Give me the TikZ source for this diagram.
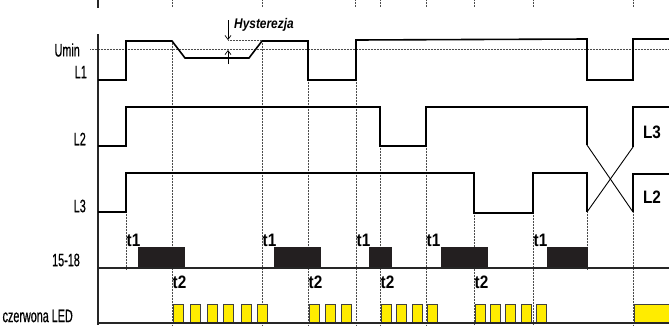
\documentclass[tikz,border=0pt]{standalone}
\usepackage{fontspec}
\setmainfont{Liberation Sans}
\newfontfamily\condfont[FakeStretch=0.6,FakeBold=0.6]{Liberation Sans}
\newfontfamily\tfont[FakeStretch=0.85]{Liberation Sans}
\usepackage{tikz}
\usetikzlibrary{arrows.meta}
\definecolor{ledyellow}{RGB}{255,236,0}
\definecolor{relayblack}{RGB}{35,31,32}
\tikzset{
  lbl/.style={anchor=east, inner sep=0pt, font=\condfont\fontsize{18}{18}\selectfont},
  tlbl/.style={anchor=west, inner sep=0.5pt, font=\tfont\bfseries\fontsize{18}{18}\selectfont},
  wave/.style={line width=1.6pt, line join=miter},
  guide/.style={densely dotted, line width=0.5pt, gray!60!black},
  relay/.style={fill=relayblack},
  led/.style={fill=ledyellow, draw=gray!50!black, line width=0.6pt},
  base/.style={line width=1.2pt, black!85},
  hystarrow/.style={-{Straight Barb[length=4pt,width=6pt]}, line width=0.7pt}
}

\begin{document}
\begin{tikzpicture}[x=1pt,y=-1pt]
  \useasboundingbox (0,0) rectangle (669,325);

  \begin{scope}
   \draw[guide] (90,49.5) -- (669,49.5);
   \draw[guide] (228,40) -- (261,40);
   \foreach \x in {172,262,355,380,426,474,533,633}
     \draw[guide] (\x,0) -- (\x,7);
   \foreach \x/\ya/\yb in {126/212/270, 172/41/325, 262/41/325, 308/80/325,
       356/80/325, 380/146/325, 426/146/325, 474/213/325, 533/213/325,
       587/212/270, 633/212/325}
     \draw[guide] (\x,\ya) -- (\x,\yb);
  \end{scope}

  \draw[base] (98,0) -- (98,8);
  \draw[base] (98,34) -- (98,325);

  \begin{scope}
   \draw[wave] (98,80) -- (126,80) -- (126,41) -- (172,41) -- (185,58) -- (249,58)
     -- (262,41) -- (308,41) -- (308,80) -- (356,80) -- (356,40) -- (587,39)
     -- (587,80) -- (633,80) -- (633,39) -- (669,39);
   \draw[wave] (98,146) -- (126,146) -- (126,107) -- (380,107) -- (380,146)
     -- (426,146) -- (426,107) -- (587,107) -- (587,145);
   \draw[wave] (98,212) -- (126,212) -- (126,173) -- (474,173) -- (474,213)
     -- (533,213) -- (533,173) -- (587,173) -- (587,212);
   \draw[line width=0.9pt] (587,145) -- (633,212);
   \draw[line width=0.9pt] (587,212) -- (633,147);
   \draw[wave] (633,147) -- (633,107) -- (669,107);
   \draw[wave] (633,212) -- (633,174) -- (669,174);
  \end{scope}

  \draw[hystarrow] (228,20) -- (228,40);
  \draw[hystarrow] (228,64) -- (228,50);

  \foreach \xa/\xb in {138/185, 274/321, 369/392, 441/488, 547/588}
    \fill[relay] (\xa,247) rectangle (\xb,268);
  \foreach \x in {173,190,207,223,241,257,309,325,341,381,396,412,427,475,490,505,521,536}
    \draw[led] (\x,304) rectangle ++(10,19);
  \draw[led] (634,304) rectangle (670,323);

  \draw[base] (98,268) -- (669,268);
  \draw[base] (98,323) -- (669,323);

  \node[lbl] (umin) at (80,50) {Umin};
  \node[lbl] (l1) at (87,72) {L1};
  \node[lbl] (l2) at (86,139) {L2};
  \node[lbl] (l3) at (86,206) {L3};
  \node[lbl] (relay) at (80,260) {15-18};
  \node[lbl] (led) at (73,316) {czerwona LED};
  \node[anchor=west, inner sep=0pt, font=\tfont\bfseries\itshape\fontsize{14}{14}\selectfont]
    (hyst) at (234,25) {Hysterezja};
  \node[tlbl, anchor=center] (l3r) at (652,132) {L3};
  \node[tlbl, anchor=center] (l2r) at (652,197) {L2};

  \foreach \x [count=\i] in {126,262,356,426,533}
    \node[tlbl] (ta\i) at (\x,240) {t1};
  \foreach \x [count=\i] in {172,308,380,474}
    \node[tlbl] (tb\i) at (\x,282) {t2};
 \end{tikzpicture}
\end{document}
